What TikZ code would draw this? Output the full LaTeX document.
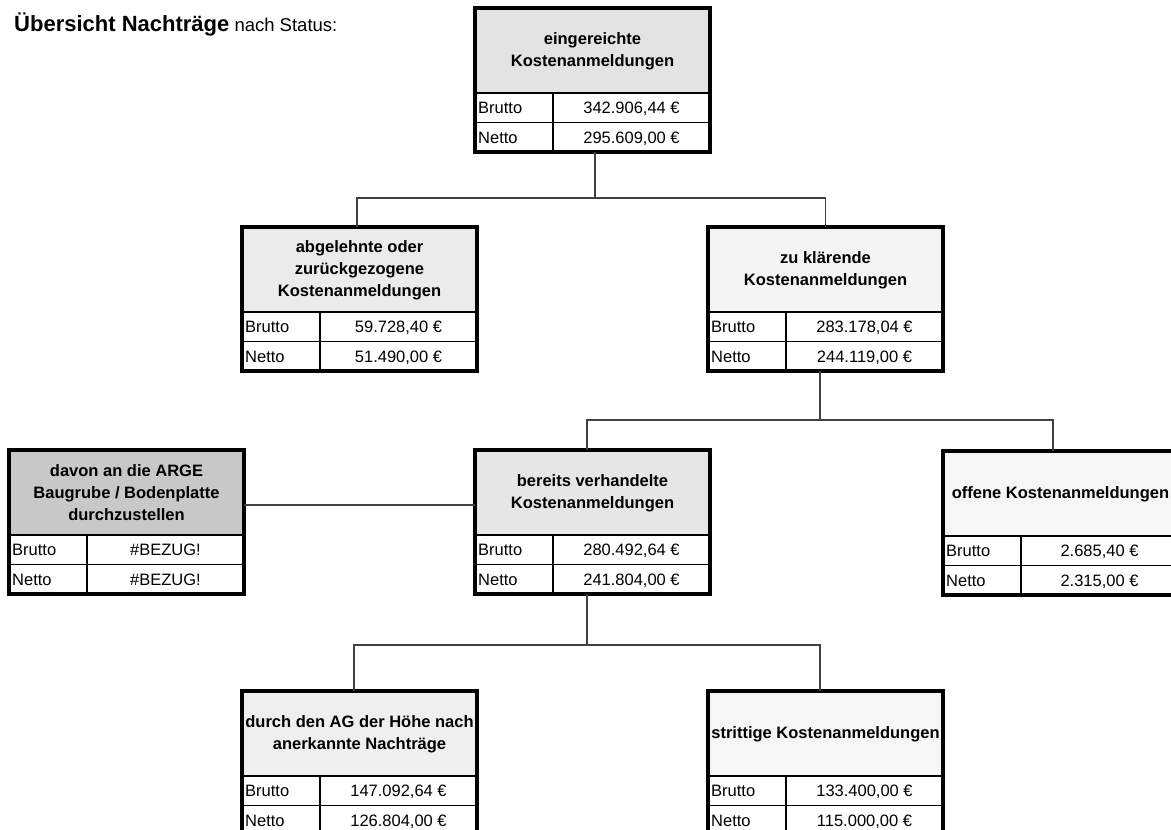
\documentclass[tikz,border=0pt]{standalone}
\usepackage{fontspec}
\setmainfont{Liberation Sans}
\usetikzlibrary{calc}
\definecolor{hTop}{HTML}{E3E3E3}
\definecolor{hAbg}{HTML}{EBEBEB}
\definecolor{hZuk}{HTML}{F4F4F4}
\definecolor{hArge}{HTML}{C8C8C8}
\definecolor{hBer}{HTML}{E6E6E6}
\definecolor{hOff}{HTML}{F6F6F6}
\definecolor{hAnk}{HTML}{EFEFEF}
\definecolor{hStr}{HTML}{F6F6F6}
\definecolor{connc}{HTML}{404040}
\tikzset{
  boxshape/.style={shape=rectangle, minimum width=235pt, minimum height=144pt, inner sep=0pt, outer sep=0pt, anchor=north west},
  outerline/.style={draw=black, line width=3.5pt},
  headline/.style={draw=black, line width=1.3pt},
  rowline/.style={draw=black, line width=1.8pt},
  colline/.style={draw=black, line width=2.2pt},
  headtext/.style={align=center, font=\fontsize{16.5}{22}\selectfont\bfseries, inner sep=0pt},
  celltext/.style={font=\fontsize{16.5}{19.5}\selectfont, inner sep=0pt},
  titletext/.style={font=\fontsize{18.5}{22}\selectfont, inner sep=0pt},
  conn/.style={draw=connc, line width=1.2pt},
}
\newcommand{\KBox}[7]{%
  \node[boxshape] (#1) at (#2,#3) {};
  \fill[#4] (#2,#3) rectangle ({#2+235},{#3+85});
  \node[headtext] (#1-h) at ({#2+117.5},{#3+43}) {#5};
  \draw[headline] (#2,{#3+85}) -- ({#2+235},{#3+85});
  \draw[rowline] (#2,{#3+114.5}) -- ({#2+235},{#3+114.5});
  \draw[colline] ({#2+78},{#3+85}) -- ({#2+78},{#3+144});
  \node[celltext, anchor=base west] (#1-bl) at ({#2+3},{#3+105.6}) {Brutto};
  \node[celltext, anchor=base] (#1-bv) at ({#2+156.5},{#3+105.6}) {#6};
  \node[celltext, anchor=base west] (#1-nl) at ({#2+3},{#3+135.1}) {Netto};
  \node[celltext, anchor=base] (#1-nv) at ({#2+156.5},{#3+135.1}) {#7};
  \draw[outerline] (#1.north west) rectangle (#1.south east);
}
\begin{document}
\begin{tikzpicture}[x=1pt, y=-1pt]
\useasboundingbox (0,0) rectangle (1171,830);
\clip (0,0) rectangle (1171,830);
\fill[white] (0,0) rectangle (1171,830);

\node[titletext, anchor=base west] (title) at (14,31) {{\fontsize{22}{24}\selectfont\bfseries Übersicht Nachträge} nach Status:};

\KBox{top}{475}{8}{hTop}{eingereichte\\Kostenanmeldungen}{342.906,44 €}{295.609,00 €}
\KBox{abg}{242}{227}{hAbg}{abgelehnte oder\\zurückgezogene\\Kostenanmeldungen}{59.728,40 €}{51.490,00 €}
\KBox{zuk}{708}{227}{hZuk}{zu klärende\\Kostenanmeldungen}{283.178,04 €}{244.119,00 €}
\KBox{arge}{9}{450}{hArge}{davon an die ARGE\\Baugrube / Bodenplatte\\durchzustellen}{\#BEZUG!}{\#BEZUG!}
\KBox{ber}{475}{450}{hBer}{bereits verhandelte\\Kostenanmeldungen}{280.492,64 €}{241.804,00 €}
\KBox{off}{943}{451}{hOff}{offene Kostenanmeldungen}{2.685,40 €}{2.315,00 €}
\KBox{ank}{242}{691}{hAnk}{durch den AG der Höhe nach\\anerkannte Nachträge}{147.092,64 €}{126.804,00 €}
\KBox{str}{708}{691}{hStr}{strittige Kostenanmeldungen}{133.400,00 €}{115.000,00 €}

% connectors
\coordinate (j1) at (595,198);
\draw[conn] (j1 |- top.south) -- (j1);
\draw[conn] ([xshift=-2.5pt]abg.north) |- (j1) -| (zuk.north);

\coordinate (j2) at (820,420);
\draw[conn] (j2 |- zuk.south) -- (j2);
\draw[conn] ([xshift=-5.5pt]ber.north) |- (j2) -| ([xshift=-7.5pt]off.north);

\coordinate (j3) at (360,505);
\draw[conn] (arge.east |- j3) -- (ber.west |- j3);

\coordinate (j4) at (587,645);
\draw[conn] (j4 |- ber.south) -- (j4);
\draw[conn] ([xshift=-5.5pt]ank.north) |- (j4) -| ([xshift=-5.5pt]str.north);
\end{tikzpicture}
\end{document}
